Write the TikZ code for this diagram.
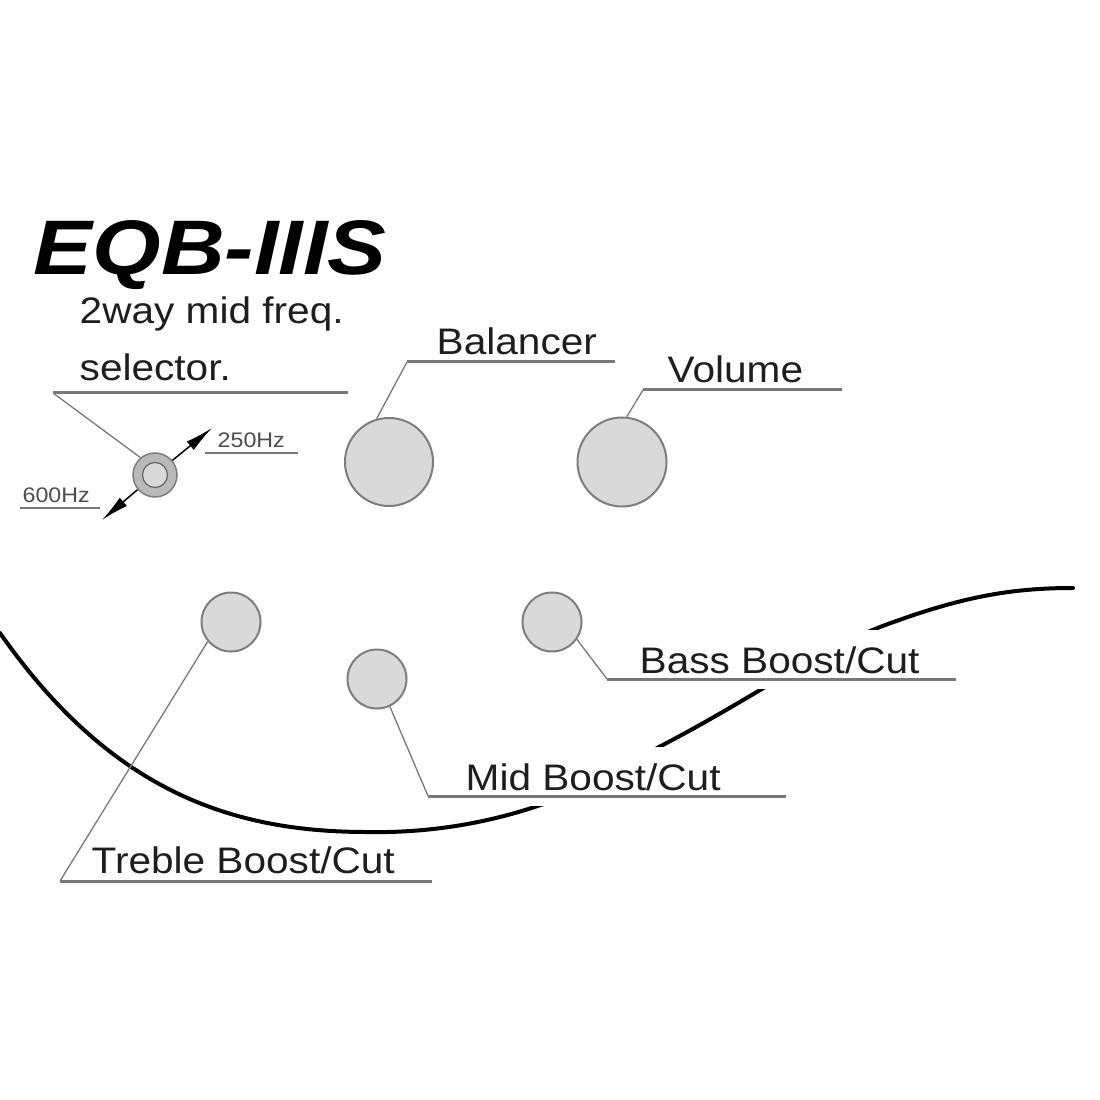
\documentclass[tikz,border=0pt]{standalone}
\usepackage{fontspec}
\setmainfont{Liberation Sans}[FakeStretch=1.10]
\newfontfamily\titlefont{Liberation Sans}[FakeStretch=1.14]
\usetikzlibrary{arrows.meta, calc}
\definecolor{knobgray}{RGB}{217,217,217}
\definecolor{rimgray}{RGB}{125,125,125}
\definecolor{linegray}{RGB}{120,120,120}
\definecolor{textgray}{RGB}{30,30,30}

\begin{document}
\begin{tikzpicture}[x=0.1mm, y=-0.1mm,
    knob/.style={circle, draw=rimgray, line width=0.2mm, fill=knobgray, inner sep=0pt},
    lbl/.style={anchor=base west, inner sep=0pt, text=textgray, font=\fontsize{10.5}{12}\selectfont},
    hz/.style={anchor=base west, inner sep=0pt, text=black!70, font=\fontsize{6}{7}\selectfont},
    mask/.style={fill=white, inner sep=1.6mm},
    uline/.style={draw=linegray, line width=0.3mm},
    leader/.style={draw=linegray, line width=0.13mm}]
\useasboundingbox (0,0) rectangle (1100,1100);

% Body outline
\draw[line width=0.4mm, line cap=round] (0,633)
    .. controls (110,790) and (230,832) .. (367,832)
    .. controls (470,834) and (570,805) .. (657,748)
    .. controls (750,700) and (810,655) .. (880,627)
    .. controls (960,597) and (1010,588) .. (1073,588);

% Title
\node[anchor=base west, inner sep=0pt, font=\fontsize{22}{26}\selectfont\titlefont\bfseries\itshape] (title) at (33,275) {EQB-IIIS};

% Mid freq selector
\node[lbl] (seltxt1) at (79,324) {2way mid freq.};
\node[lbl] (seltxt2) at (79,381) {selector.};
\node[circle, draw=rimgray, fill=gray!55, line width=0.15mm, minimum size=4.4mm, inner sep=0pt] (sel) at (155,475) {};
\node[circle, draw=rimgray!80!black, fill=knobgray, line width=0.12mm, minimum size=2.5mm, inner sep=0pt] (selcore) at (sel) {};
\coordinate (selL) at (53,393);
\coordinate (selR) at (348,393);
\draw[leader] (selL) -- (sel.130);
\draw[uline] (selL) -- (selR);
\coordinate (hiTip) at (212,428);
\coordinate (loTip) at (102,520);
\draw[-{Latex[length=2.8mm,width=1.1mm]}, line width=0.15mm] (sel.40) -- (hiTip);
\draw[-{Latex[length=2.8mm,width=1.1mm]}, line width=0.15mm] (sel.220) -- (loTip);
\node[hz] (hi) at (217,448) {250Hz};
\node[hz] (lo) at (22,502) {600Hz};
\draw[uline, line width=0.2mm] (205,453) -- (298,453);
\draw[uline, line width=0.2mm] (20,508) -- (100,508);

% Knobs
\node[knob, minimum size=8.8mm] (bal) at (389,462) {};
\node[knob, minimum size=8.9mm] (vol) at (622,462) {};
\node[knob, minimum size=5.9mm] (treb) at (231,622) {};
\node[knob, minimum size=5.9mm] (mid) at (377,679) {};
\node[knob, minimum size=5.9mm] (bass) at (552,622) {};

% Labels
\node[lbl] (baltxt) at (436,355) {Balancer};
\node[lbl] (voltxt) at (667,383) {Volume};
\node[lbl] (trebtxt) at (91,873) {Treble Boost/Cut};
\node[lbl, mask] (midtxt) at (449,790) {Mid Boost/Cut};
\node[lbl, mask] (basstxt) at (623,673) {Bass Boost/Cut};

% Leaders
\coordinate (balL) at (407,362);
\coordinate (balR) at (615,362);
\coordinate (volL) at (643,390);
\coordinate (volR) at (842,390);
\coordinate (trebL) at (60,881);
\coordinate (trebR) at (432,881);
\coordinate (midL) at (428,796);
\coordinate (midR) at (786,796);
\coordinate (bassL) at (607,679);
\coordinate (bassR) at (956,679);
\draw[leader] (bal.106) -- (balL);
\draw[uline] (balL) -- (balR);
\draw[leader] (vol.84) -- (volL);
\draw[uline] (volL) -- (volR);
\draw[leader] (treb.220) -- (trebL);
\draw[uline] (trebL) -- (trebR);
\draw[leader] (mid.-65) -- (midL);
\draw[uline] (midL) -- (midR);
\draw[leader] (bass.-35) -- (bassL);
\draw[uline] (bassL) -- (bassR);
\end{tikzpicture}
\end{document}
